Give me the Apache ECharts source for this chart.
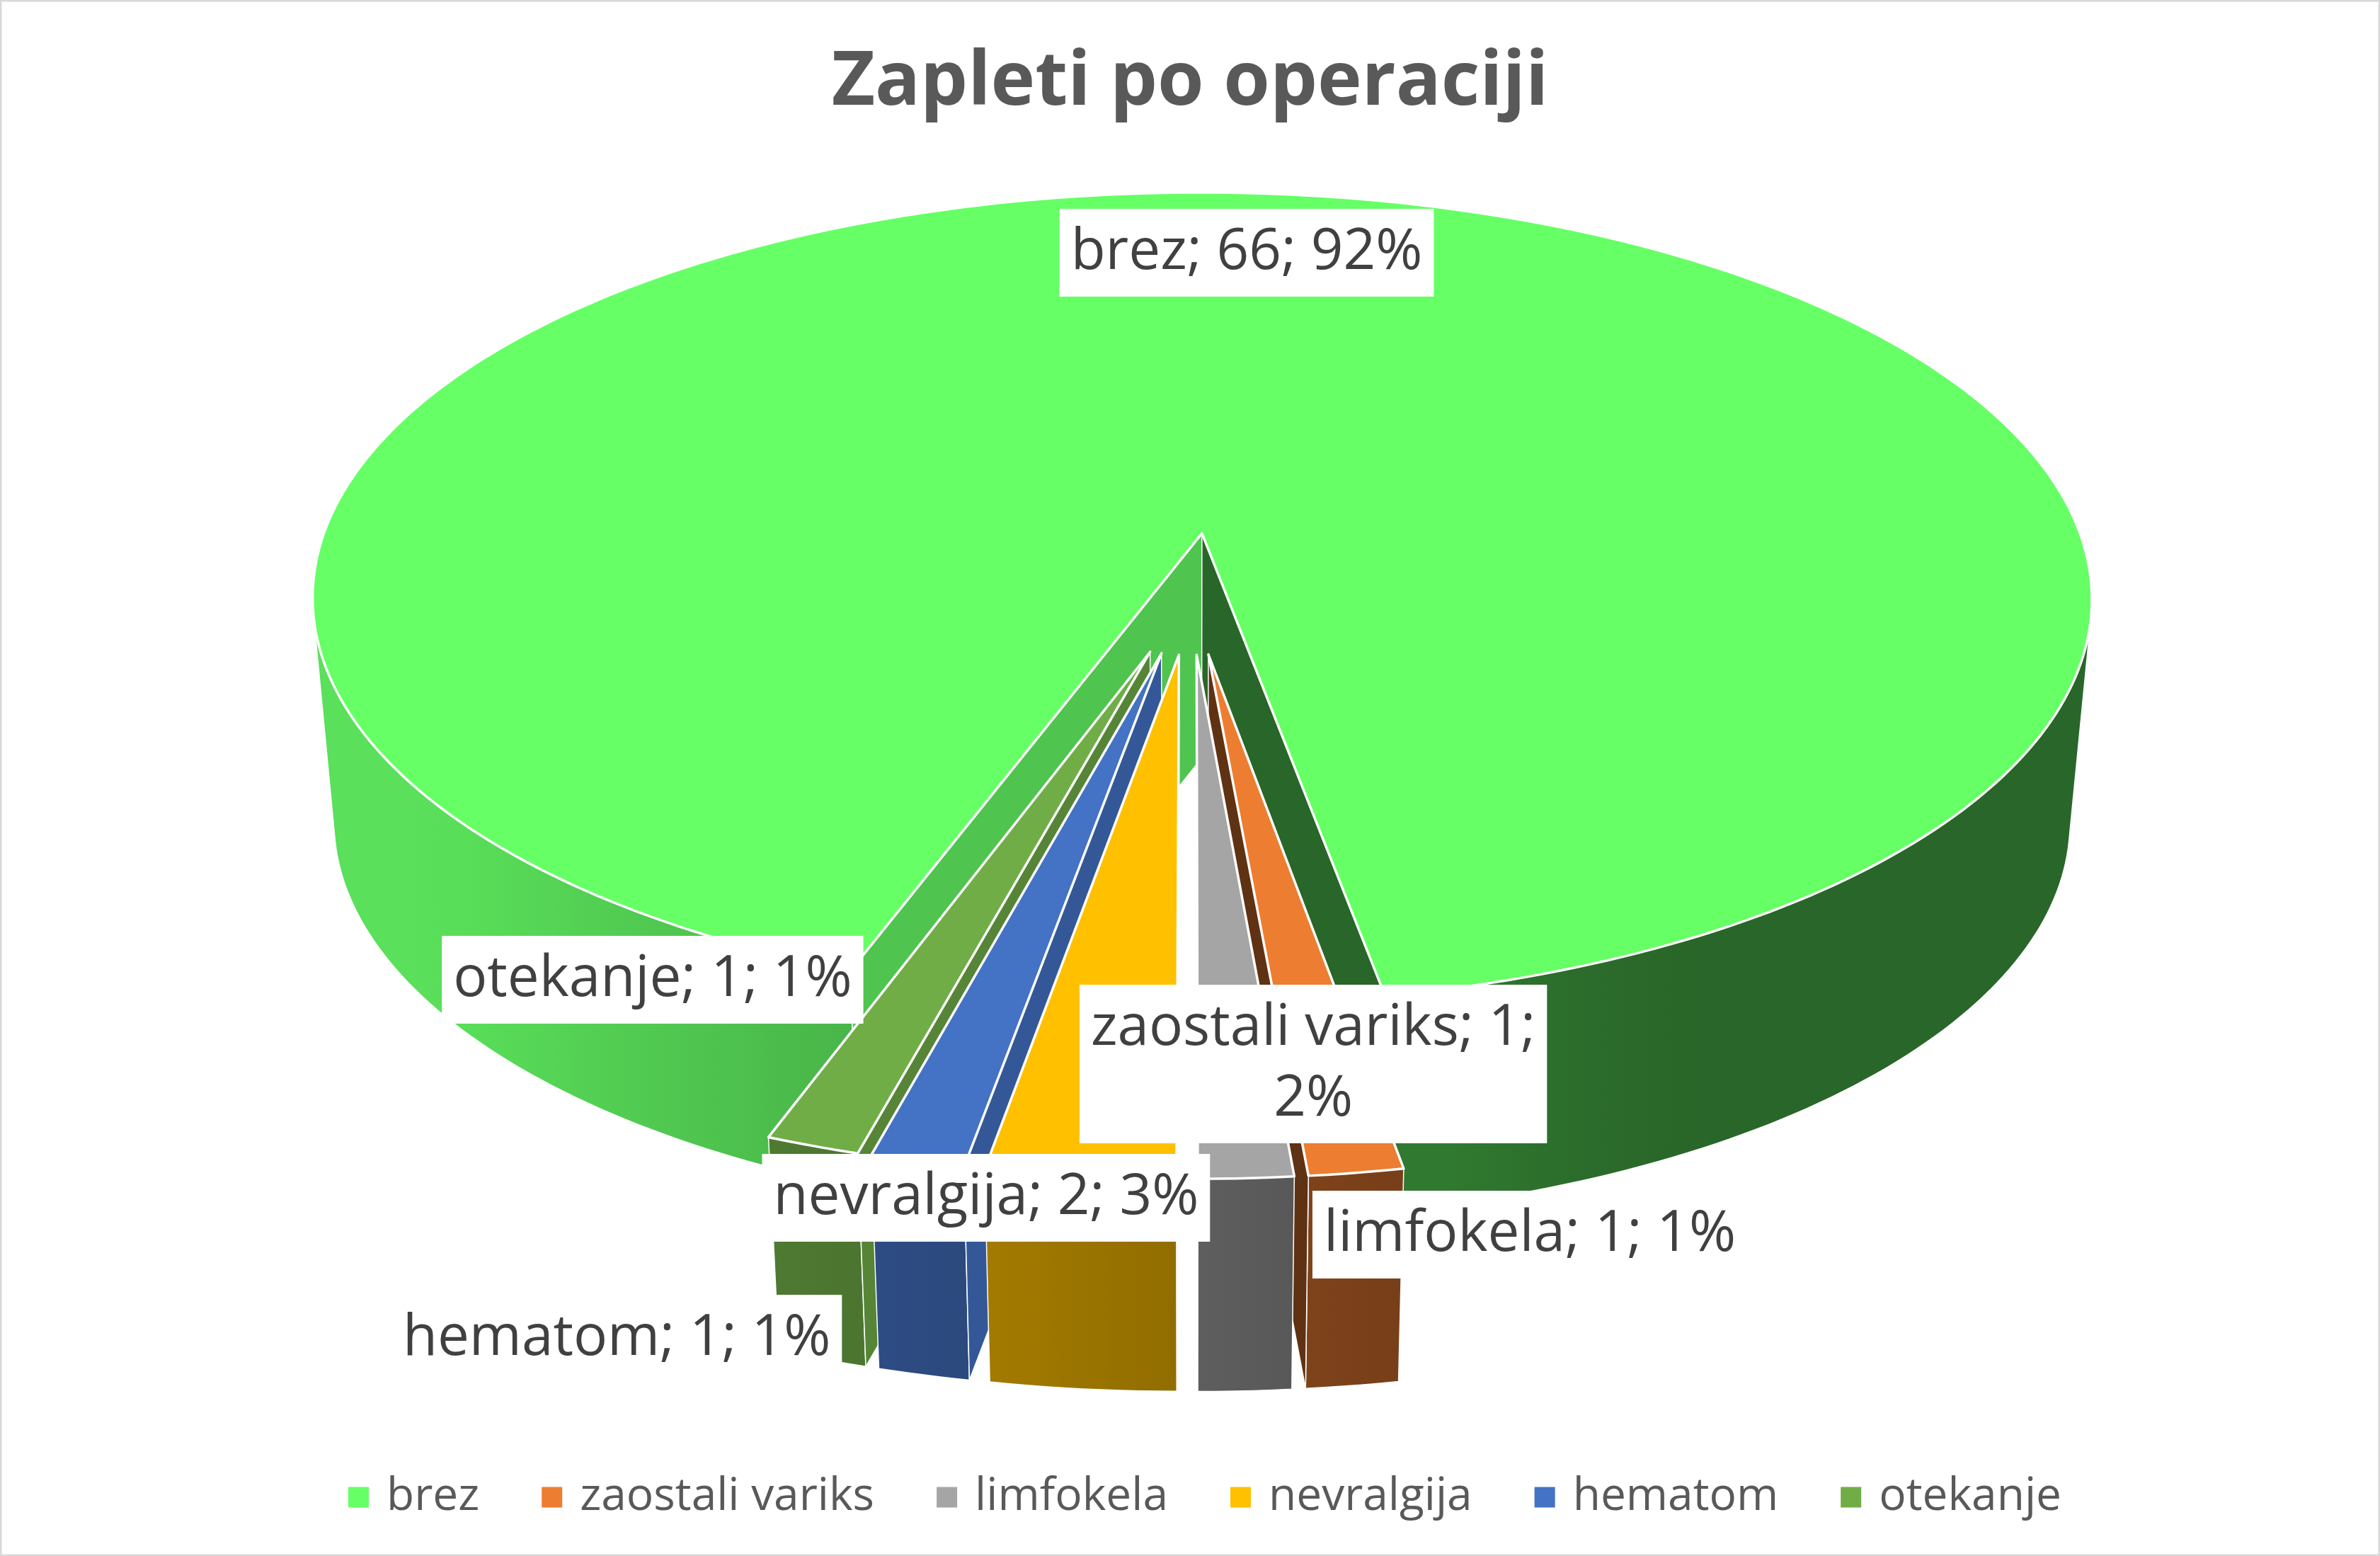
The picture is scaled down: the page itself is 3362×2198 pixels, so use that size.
<!DOCTYPE html>
<html>
<head>
<meta charset="utf-8">
<script src="https://cdn.jsdelivr.net/npm/echarts@6/dist/echarts.min.js"></script>
<style>
html,body{margin:0;padding:0;background:#fff}
#chart{width:3362px;height:2198px}
</style>
</head>
<body>
<div id="chart"></div>
<script>
// data
var categories = ['brez', 'zaostali variks', 'limfokela', 'nevralgija', 'hematom', 'otekanje'];
var counts = [66, 1, 1, 2, 1, 1];
var shownPercent = [92, 2, 1, 3, 1, 1];
var colors = ['#66FF66', '#ED7D31', '#A5A5A5', '#FFC000', '#4472C4', '#70AD47'];

// tilted pie view (fractions of chart width / height)
var view = {cx: 0.5003, cy: 0.3808, rx: 0.3778, ry: 0.2666, depth: 0.1438, depthSlope: 0.019,
            shrink: 0.9756, persp: 0.1646, explode: 0.1468, startAngle: 200};
// label centres, same order as categories
var labelAt = [[0.5238, 0.1624], [0.5518, 0.6838], [0.6428, 0.7934],
               [0.4143, 0.7698], [0.2591, 0.8603], [0.2742, 0.6297]];
var labelFont = '80px "Open Sans"';

var total = counts.reduce(function (s, v) { return s + v; }, 0);
var slices = [], acc = 0;
counts.forEach(function (v) {
	var a0 = view.startAngle + acc / total * 360;
	acc += v;
	var a1 = view.startAngle + acc / total * 360;
	slices.push({start: a0 * Math.PI / 180, end: a1 * Math.PI / 180});
});

function shade(hex, k) {
	var n = parseInt(hex.slice(1), 16);
	return 'rgb(' + Math.round((n >> 16 & 255) * k) + ',' + Math.round((n >> 8 & 255) * k) + ',' + Math.round((n & 255) * k) + ')';
}
function wallShade(phi) {
	return Math.max(0.40, Math.min(0.88, 0.57 - 0.4 * Math.sin(phi)));
}
function area(pts) {
	var s = 0;
	for (var i = 0; i < pts.length; i++) {
		var a = pts[i], b = pts[(i + 1) % pts.length];
		s += a[0] * b[1] - b[0] * a[1];
	}
	return s / 2;
}

var measure = document.createElement('canvas').getContext('2d');
measure.font = labelFont;
function labelText(i) {
	var t = categories[i] + '; ' + counts[i] + '; ' + shownPercent[i] + '%';
	if (measure.measureText(t).width > 660) {
		var k = t.lastIndexOf('; ');
		t = t.slice(0, k + 1) + '\n' + t.slice(k + 2);
	}
	return t;
}

function renderItem(params, api) {
	var W = api.getWidth(), H = api.getHeight();
	var cx = view.cx * W, cy = view.cy * H, R = view.rx * W, Ry = view.ry * H;
	var h = view.depth * H, p = view.persp;
	var i = params.dataIndex, sl = slices[i], mid = (sl.start + sl.end) / 2;
	var ox = view.explode * Math.sin(mid), oy = -view.explode * Math.cos(mid);
	var base = colors[i];

	function proj(a, b) { var s = 1 / (1 - p * b); return [cx + R * a * s, cy + Ry * b * s]; }
	// bottom rim: a little narrower, seen from above
	function bot(q) { return [cx + (q[0] - cx) * view.shrink, q[1] + h - view.depthSlope * (q[1] - cy)]; }

	var apex = proj(ox, oy), apexB = bot(apex);
	var n = Math.max(2, Math.ceil((sl.end - sl.start) / (Math.PI / 180)));
	var phis = [], tops = [], bots = [];
	for (var k = 0; k <= n; k++) {
		var phi = sl.start + (sl.end - sl.start) * k / n;
		var t = proj(ox + Math.sin(phi), oy - Math.cos(phi));
		phis.push(phi); tops.push(t); bots.push(bot(t));
	}
	var d = Math.abs(((mid - Math.PI) % (2 * Math.PI) + 3 * Math.PI) % (2 * Math.PI) - Math.PI);
	var zb = Math.round((4 - d) * 1000);
	var kids = [];

	// outer wall, only the parts that face the viewer
	var pieces = [], cur = null;
	for (k = 0; k < n; k++) {
		var vis = area([tops[k], tops[k + 1], bots[k + 1], bots[k]]) < 0;
		if (vis) { if (!cur) { cur = [k, k]; pieces.push(cur); } else cur[1] = k; }
		else cur = null;
	}
	pieces.forEach(function (pc) {
		var pts = [], xs = [], j;
		for (j = pc[0]; j <= pc[1] + 1; j++) { pts.push(tops[j]); xs.push(tops[j][0]); }
		for (j = pc[1] + 1; j >= pc[0]; j--) pts.push(bots[j]);
		var x0 = Math.min.apply(null, xs), x1 = Math.max.apply(null, xs);
		var stops = [], step = Math.max(1, Math.floor((pc[1] - pc[0] + 1) / 8));
		for (j = pc[0]; j <= pc[1] + 1; j += step) {
			stops.push({offset: x1 > x0 ? (tops[j][0] - x0) / (x1 - x0) : 0, color: shade(base, wallShade(phis[j]))});
		}
		stops.sort(function (a, b) { return a.offset - b.offset; });
		kids.push({type: 'polygon', shape: {points: pts}, z2: zb + 1,
			style: {fill: new echarts.graphic.LinearGradient(0, 0, 1, 0, stops), stroke: '#fff', lineWidth: 1.5}});
	});

	// radial cut faces
	var qs = [apex, tops[0], bots[0], apexB];
	if (area(qs) < 0) kids.push({type: 'polygon', shape: {points: qs}, z2: zb + 1,
		style: {fill: shade(base, 0.77), stroke: '#fff', lineWidth: 1.5}});
	var qe = [apex, tops[n], bots[n], apexB];
	if (area(qe) > 0) kids.push({type: 'polygon', shape: {points: qe}, z2: zb + 1,
		style: {fill: shade(base, 0.40), stroke: '#fff', lineWidth: 1.5}});

	// top face
	kids.push({type: 'polygon', shape: {points: [apex].concat(tops)}, z2: zb + 5,
		style: {fill: base, stroke: '#fff', lineWidth: 3.5, lineJoin: 'round'}});

	// data label
	kids.push({type: 'text', x: labelAt[i][0] * W, y: labelAt[i][1] * H, z2: 100000,
		style: {text: labelText(i), font: labelFont, fill: '#404040', align: 'center', verticalAlign: 'middle',
			backgroundColor: '#fff', padding: [12, 16], lineHeight: 100}});

	return {type: 'group', children: kids};
}

var chart = echarts.init(document.getElementById('chart'));
chart.setOption({
	animation: false,
	backgroundColor: '#fff',
	title: {text: 'Zapleti po operaciji', left: 'center', top: 60,
		textStyle: {fontFamily: 'Open Sans', fontWeight: 'bold', fontSize: 106, color: '#595959'}},
	legend: {data: categories, left: 487, top: 2078, icon: 'rect', itemWidth: 29, itemHeight: 29, itemGap: 88,
		textStyle: {fontFamily: 'Open Sans', fontSize: 64, color: '#595959', padding: [0, 0, 0, 20]}},
	graphic: [{type: 'rect', shape: {x: 1, y: 1, width: 3360, height: 2196}, silent: true,
		style: {fill: null, stroke: '#d9d9d9', lineWidth: 3}}],
	series: [
		{type: 'pie', radius: [0, 0], silent: true, label: {show: false}, labelLine: {show: false},
			data: categories.map(function (c, i) { return {name: c, value: counts[i], itemStyle: {color: colors[i]}}; })},
		{type: 'custom', coordinateSystem: 'none', renderItem: renderItem, silent: true,
			data: counts.map(function (v, i) { return {name: categories[i], value: v}; })}
	]
});
window.addEventListener('resize', function () { chart.resize(); });
</script>
</body>
</html>
